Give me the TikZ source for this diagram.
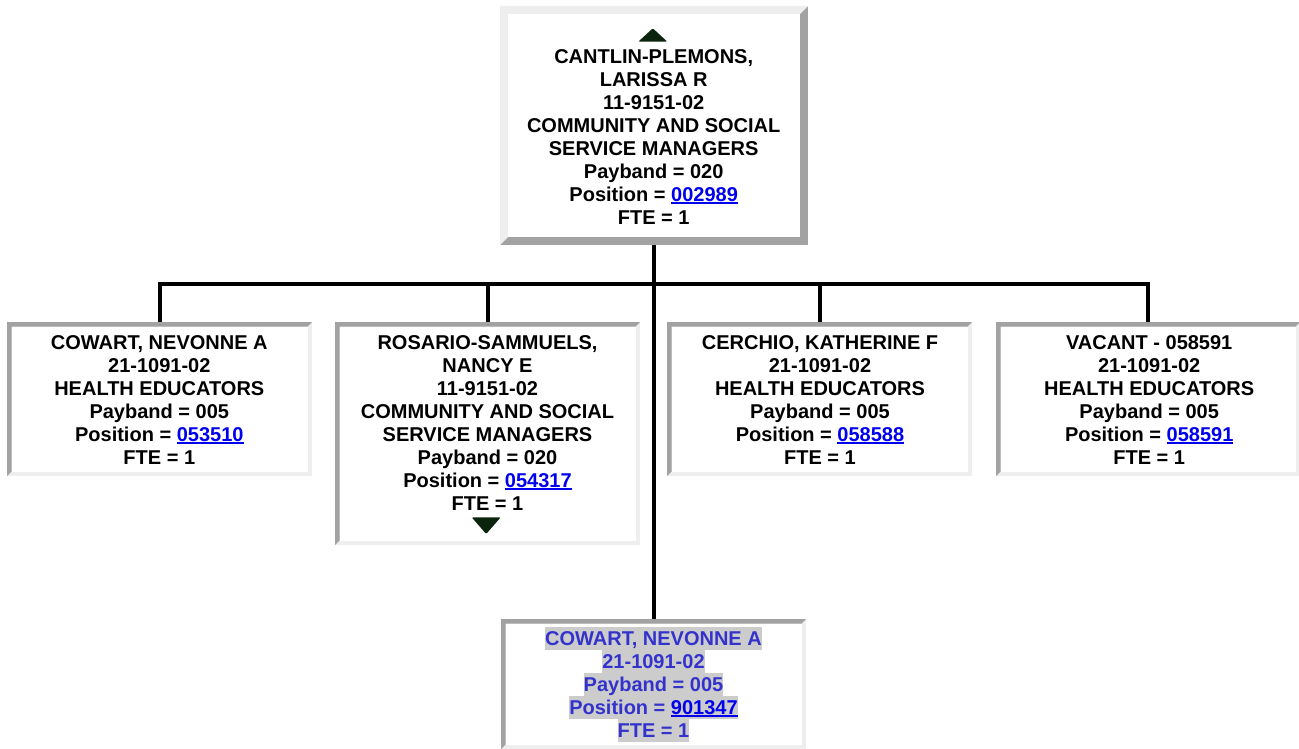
\documentclass[tikz,border=0pt]{standalone}
\usepackage{fontspec}
\setmainfont{Liberation Sans}
\usepackage{xcolor}
\definecolor{bdark}{RGB}{162,162,162}
\definecolor{blight}{RGB}{238,238,238}
\definecolor{hlgray}{RGB}{204,204,204}
\definecolor{linkblue}{RGB}{0,0,238}
\definecolor{selblue}{RGB}{51,51,204}
\definecolor{tri}{RGB}{10,36,14}
\setlength{\fboxsep}{0pt}
\newsavebox{\lnkbox}
\newcommand{\lnk}[1]{{\color{linkblue}\sbox{\lnkbox}{#1}\rlap{\rule[-2.6pt]{\wd\lnkbox}{1.8pt}}\usebox{\lnkbox}}}
\newcommand{\hlline}[1]{\colorbox{hlgray}{\rule[-5pt]{0pt}{23pt}#1}}
\begin{document}
\begin{tikzpicture}[x=1pt,y=-1pt,
  bev/.style n args={3}{draw=none, inner sep=0pt, outer sep=0pt, rectangle,
    path picture={
      \fill[#3] (path picture bounding box.south west) rectangle (path picture bounding box.north east);
      \fill[#2] (path picture bounding box.south west) -- (path picture bounding box.north west)
        -- (path picture bounding box.north east) -- ([shift={(-#1,#1)}]path picture bounding box.north east)
        -- ([shift={(#1,#1)}]path picture bounding box.north west) -- ([shift={(#1,-#1)}]path picture bounding box.south west) -- cycle;
      \fill[white] ([shift={(#1,#1)}]path picture bounding box.north west) rectangle ([shift={(-#1,-#1)}]path picture bounding box.south east);
    }},
  outsetbox/.style={bev={8}{blight}{bdark}},
  insetbox/.style={bev={4.5}{bdark}{blight}},
  label text/.style={anchor=north, inner sep=0pt, outer sep=0pt, align=center,
    font=\fontsize{20}{23}\selectfont\bfseries},
  conn/.style={line width=4pt, black}
]
\useasboundingbox[fill=white] (0,0) rectangle (1299,749);

% box shapes (named)
\node[outsetbox, minimum width=308pt, minimum height=239pt] (top) at (654,125.5) {};
\node[insetbox, minimum width=305pt, minimum height=154pt] (c1) at (159.5,399) {};
\node[insetbox, minimum width=305pt, minimum height=223pt] (c2) at (487.5,433.5) {};
\node[insetbox, minimum width=305pt, minimum height=154pt] (c3) at (819.5,399) {};
\node[insetbox, minimum width=304pt, minimum height=154pt] (c4) at (1148,399) {};
\node[insetbox, minimum width=305pt, minimum height=130pt] (bot) at (653.5,684) {};

% connectors
\coordinate (bar) at (654,284);
\draw[conn] (top.south) -- (top.south |- bot.north);
\draw[conn] (c1.north) -- (c1.north |- bar) -- (c4.north |- bar) -- (c4.north);
\draw[conn] (c2.north) -- (c2.north |- bar);
\draw[conn] (c3.north) -- (c3.north |- bar);

% triangles
\fill[tri, rounded corners=1.2pt] (638.3,41.7) -- (652.8,28.3) -- (667.3,41.7) -- cycle;
\fill[tri, rounded corners=1.2pt] (471.7,517.3) -- (500.7,517.3) -- (486.2,534) -- cycle;

% texts
\node[label text] (ttop) at (653.7,45.3) {\rule{0pt}{18pt}CANTLIN-PLEMONS,\\LARISSA R\\11-9151-02\\COMMUNITY AND SOCIAL\\SERVICE MANAGERS\\Payband = 020\\Position = \lnk{002989}\\FTE = 1};
\node[label text] (tc1) at (159.3,331.3) {\rule{0pt}{18pt}COWART, NEVONNE A\\21-1091-02\\HEALTH EDUCATORS\\Payband = 005\\Position = \lnk{053510}\\FTE = 1};
\node[label text] (tc2) at (487.5,331.5) {\rule{0pt}{18pt}ROSARIO-SAMMUELS,\\NANCY E\\11-9151-02\\COMMUNITY AND SOCIAL\\SERVICE MANAGERS\\Payband = 020\\Position = \lnk{054317}\\FTE = 1};
\node[label text] (tc3) at (820,331.3) {\rule{0pt}{18pt}CERCHIO, KATHERINE F\\21-1091-02\\HEALTH EDUCATORS\\Payband = 005\\Position = \lnk{058588}\\FTE = 1};
\node[label text] (tc4) at (1149.2,331.3) {\rule{0pt}{18pt}VACANT - 058591\\21-1091-02\\HEALTH EDUCATORS\\Payband = 005\\Position = \lnk{058591}\\FTE = 1};
\node[label text, text=selblue] (tbot) at (653.5,627) {\hlline{COWART, NEVONNE A}\\\hlline{21-1091-02}\\\hlline{Payband = 005}\\\hlline{Position = \lnk{901347}}\\\hlline{FTE = 1}};
\end{tikzpicture}
\end{document}
